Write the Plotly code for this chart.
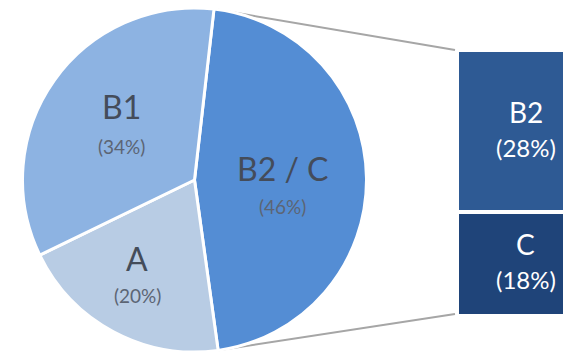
import math
import plotly.graph_objects as go

# Overall split shown in the pie
pie_labels = ["B2 / C", "A", "B1"]
pie_values = [46, 20, 34]
pie_colors = ["#548dd4", "#b8cce4", "#8db3e2"]

# Breakdown of the "B2 / C" slice shown in the stacked bar
bar_labels = ["C", "B2"]
bar_values = [18, 28]
bar_colors = ["#1f4479", "#2e5a94"]

W, H = 576, 352
FONT = "Lato"

# pie geometry in pixels
cx, cy, r = 194.5, 180.0, 172.0
rotation = 6.5

# bar geometry in pixels
bar_left, bar_top, bar_bottom = 457, 50, 316


def px(x):
    return x / W


def py(y):
    return 1 - y / H


fig = go.Figure()

fig.add_trace(go.Pie(
    labels=pie_labels,
    values=pie_values,
    sort=False,
    direction="clockwise",
    rotation=rotation,
    marker=dict(colors=pie_colors, line=dict(color="white", width=3)),
    textinfo="none",
    hoverinfo="label+percent",
    showlegend=False,
    domain=dict(x=[px(cx - r), px(cx + r)], y=[py(cy + r), py(cy - r)]),
))

for lab, val, col in zip(bar_labels, bar_values, bar_colors):
    fig.add_trace(go.Bar(
        x=[0], y=[val], name=lab,
        marker=dict(color=col, line=dict(color="white", width=4)),
        width=1, showlegend=False,
        xaxis="x2", yaxis="y2",
    ))

total_bc = sum(bar_values)

# connector lines from the B2 / C slice edges to the bar
a0 = math.radians(rotation)
a1 = math.radians(rotation + 360 * pie_values[0] / sum(pie_values))
p0 = (cx + r * math.sin(a0), cy - r * math.cos(a0))
p1 = (cx + r * math.sin(a1), cy - r * math.cos(a1))
shapes = [
    dict(type="line", xref="paper", yref="paper",
         x0=px(p0[0]), y0=py(p0[1]), x1=px(bar_left - 2), y1=py(bar_top),
         line=dict(color="#a6a6a6", width=2), layer="below"),
    dict(type="line", xref="paper", yref="paper",
         x0=px(p1[0]), y0=py(p1[1]), x1=px(bar_left - 2), y1=py(bar_bottom - 2),
         line=dict(color="#a6a6a6", width=2), layer="below"),
]

annotations = []


def label(x, y, text, size, color):
    annotations.append(dict(
        x=px(x), y=py(y), xref="paper", yref="paper", text=text,
        showarrow=False, xanchor="center", yanchor="middle",
        font=dict(family=FONT, size=size, color=color),
    ))


# slice labels
pie_pos = {"B2 / C": (282.5, 168, 206), "A": (137, 258, 295), "B1": (121, 106, 146)}
for lab, val in zip(pie_labels, pie_values):
    x, y_name, y_pct = pie_pos[lab]
    label(x, y_name, lab, 32, "#444c5a")
    label(x, y_pct, f"({val}%)", 19, "#5c6574")

# bar segment labels
bar_pos = {"B2": (525.5, 112, 147), "C": (525.5, 244, 279)}
for lab, val in zip(bar_labels, bar_values):
    x, y_name, y_pct = bar_pos[lab]
    label(x, y_name, lab, 28, "white")
    label(x, y_pct, f"({val}%)", 24, "white")

fig.update_layout(
    width=W, height=H,
    margin=dict(l=0, r=0, t=0, b=0),
    paper_bgcolor="white", plot_bgcolor="white",
    barmode="stack", bargap=0,
    xaxis=dict(visible=False),
    yaxis=dict(visible=False),
    xaxis2=dict(domain=[px(bar_left), 1], range=[-0.5, 0.6],
                visible=False, fixedrange=True),
    yaxis2=dict(domain=[py(bar_bottom), py(bar_top)], range=[0, total_bc],
                visible=False, fixedrange=True),
    shapes=shapes,
    annotations=annotations,
)

fig.write_html("out.html")
